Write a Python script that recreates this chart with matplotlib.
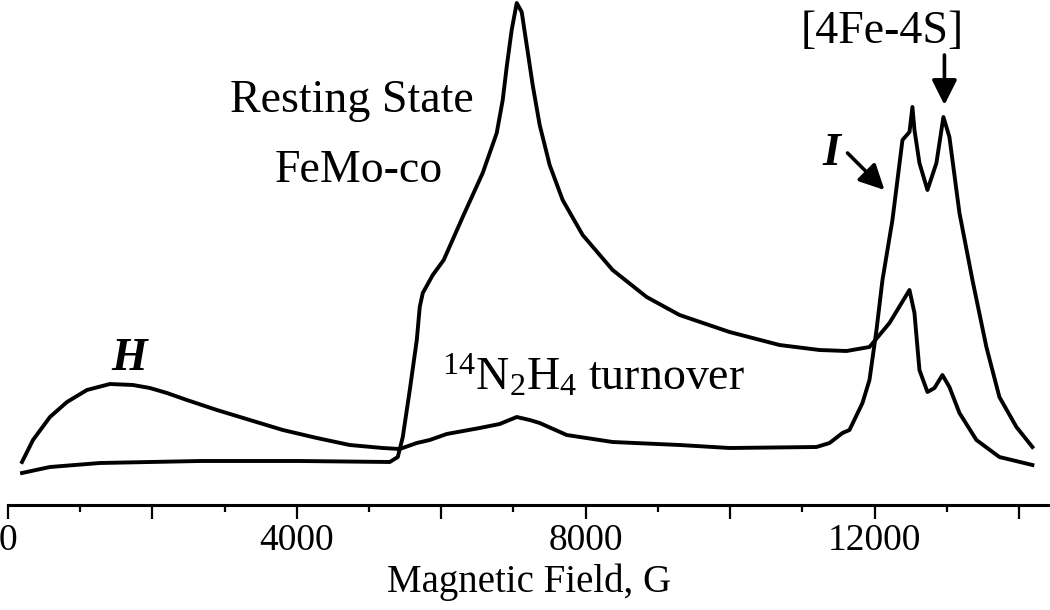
import matplotlib
matplotlib.use('Agg')
import matplotlib.pyplot as plt
from matplotlib.ticker import MultipleLocator, FuncFormatter

plt.rcParams['font.family'] = ['Liberation Serif', 'DejaVu Serif']
plt.rcParams['mathtext.fontset'] = 'custom'
plt.rcParams['mathtext.rm'] = 'Liberation Serif'
plt.rcParams['mathtext.it'] = 'Liberation Serif:italic'
plt.rcParams['mathtext.bf'] = 'Liberation Serif:bold'

# resting state FeMo-co spectrum (field in G, intensity in arbitrary units)
rest_field = [194, 581, 1273, 2657, 4041, 5287, 5398, 5467, 5564, 5661, 5702,
              5744, 5882, 6034, 6297, 6574, 6768, 6851, 6906, 6975, 7045, 7114,
              7183, 7266, 7363, 7501, 7681, 7958, 8373, 8844, 9300, 9992, 10684,
              11238, 11612, 11930, 12207, 12484, 12553, 12622, 12733, 12830,
              12940, 13037, 13176, 13411, 13729, 14186]
rest_int = [32, 38, 42, 44, 44, 43, 48, 68, 115, 165, 198,
            212, 230, 245, 288, 332, 372, 405, 438, 475, 502, 493,
            460, 420, 380, 340, 305, 270, 235, 208, 190, 173, 160,
            155, 154, 158, 182, 215, 192, 135, 113, 117,
            130, 118, 92, 65, 48, 40]

# 14N2H4 turnover spectrum
turn_field = [194, 346, 581, 817, 1093, 1412, 1730, 1965, 2201, 2477, 2893,
              3349, 3806, 4277, 4733, 5190, 5425, 5661, 5840, 6076, 6532, 6809,
              7045, 7225, 7363, 7737, 8373, 9300, 9992, 11196, 11377, 11556,
              11653, 11833, 11930, 12027, 12110, 12248, 12387, 12484, 12525,
              12553, 12622, 12733, 12857, 12954, 13037, 13176, 13356, 13549,
              13729, 13965, 14186]
turn_int = [43, 65, 88, 103, 115, 121, 120, 117, 112, 105, 95,
            85, 75, 67, 60, 57, 56, 62, 65, 71, 77, 81,
            88, 85, 82, 70, 63, 60, 57, 58, 62, 72,
            75, 102, 125, 175, 225, 285, 365, 373, 398,
            375, 342, 315, 342, 388, 368, 292, 225, 158,
            108, 78, 58]

fig = plt.figure(figsize=(10.5, 6.1), dpi=100)
ax = fig.add_axes([8 / 1050, 105 / 610, 1 - 8 / 1050, 505 / 610])

ax.plot(rest_field, rest_int, color='black', lw=2.8, solid_joinstyle='round')
ax.plot(turn_field, turn_int, color='black', lw=2.8, solid_joinstyle='round')

ax.set_xlim(0, 14430)
ax.set_ylim(0, 505)

for side in ['left', 'right', 'top']:
    ax.spines[side].set_visible(False)
ax.spines['bottom'].set_linewidth(2.2)
ax.set_yticks([])

ax.xaxis.set_major_locator(MultipleLocator(2000))
ax.xaxis.set_minor_locator(MultipleLocator(1000))
ax.xaxis.set_major_formatter(FuncFormatter(lambda v, p: '%d' % v if v % 4000 == 0 else ''))
ax.tick_params(axis='x', which='major', direction='out', length=10, width=1.6,
               labelsize=27, pad=3)
ax.tick_params(axis='x', which='minor', direction='out', length=5, width=1.6)
ax.set_xlabel('Magnetic Field, G', fontsize=28, labelpad=4)

# labels
ax.text(4768, 393, 'Resting State', fontsize=33, ha='center', va='baseline')
ax.text(4858, 323, 'FeMo-co', fontsize=33, ha='center', va='baseline')
ax.text(1675, 135, 'H', fontsize=33, ha='center', va='baseline',
        fontweight='bold', fontstyle='italic')
ax.text(6007, 115, r'$^{14}$N$_{2}$H$_{4}$ turnover', fontsize=33,
        ha='left', va='baseline')
ax.text(11404, 340, 'I', fontsize=33, ha='center', va='baseline',
        fontweight='bold', fontstyle='italic')
ax.text(12110, 462, '[4Fe-4S]', fontsize=33, ha='center', va='baseline')

arrow = dict(arrowstyle='-|>', color='black', lw=2.6, mutation_scale=38,
             shrinkA=0, shrinkB=0)
ax.annotate('', xy=(12138, 315), xytext=(11626, 352), arrowprops=arrow)
ax.annotate('', xy=(12968, 400), xytext=(12968, 450), arrowprops=arrow)

fig.savefig('out.png', dpi=100)
